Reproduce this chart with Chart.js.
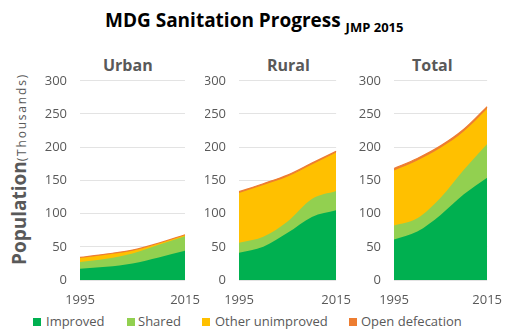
<!DOCTYPE html>
<html>
<head>
<meta charset="utf-8">
<script src="https://cdn.jsdelivr.net/npm/chart.js@4.4.1/dist/chart.umd.min.js"></script>
<style>
  body { margin: 0; width: 506px; height: 329px; background: #fff; position: relative; overflow: hidden;
         font-family: "Open Sans", sans-serif; color: #595959; }
  .abs { position: absolute; white-space: nowrap; line-height: 1; }
  .panel { position: absolute; }
  .sq { position: absolute; width: 8px; height: 8px; }
</style>
</head>
<body>
<div class="abs" style="left:105px; top:11px; font-size:19px; font-weight:bold; color:#000;">MDG Sanitation Progress <span style="font-size:13px; position:relative; top:5px;">JMP 2015</span></div>

<div class="abs" style="left:-81px; top:157px; width:200px; height:24px; line-height:24px; text-align:center; transform:rotate(-90deg); transform-origin:center;">
  <span style="font-size:19px; font-weight:bold;">Population</span><span style="font-size:12px; letter-spacing:1.8px;">(Thousands)</span>
</div>

<div class="abs" style="left:103px; top:57px; font-size:16px; font-weight:bold;">Urban</div>
<div class="abs" style="left:267px; top:57px; font-size:16px; font-weight:bold;">Rural</div>
<div class="abs" style="left:412px; top:57px; font-size:16px; font-weight:bold;">Total</div>

<canvas id="urban" class="panel" width="175" height="246" style="left:30px; top:60px;"></canvas>
<canvas id="rural" class="panel" width="150" height="246" style="left:205px; top:60px;"></canvas>
<canvas id="total" class="panel" width="148" height="246" style="left:358px; top:60px;"></canvas>

<div class="sq" style="left:33px; top:318px; background:#00B050;"></div>
<div class="abs" style="left:46px; top:315px; font-size:13px;">Improved</div>
<div class="sq" style="left:127px; top:318px; background:#92D050;"></div>
<div class="abs" style="left:138px; top:315px; font-size:13px;">Shared</div>
<div class="sq" style="left:202px; top:318px; background:#FFC000;"></div>
<div class="abs" style="left:215px; top:315px; font-size:13px;">Other unimproved</div>
<div class="sq" style="left:349px; top:318px; background:#ED7D31;"></div>
<div class="abs" style="left:361px; top:315px; font-size:13px;">Open defecation</div>

<script>
// years on the x axis (only first and last are labelled)
const years = ["1995", "2000", "2005", "2010", "2015"];
const yMax = 300;
const yStep = 50;

// Urban (thousands), each layer's own share of the stack
const urbanImproved = [17, 20, 25, 34, 44];
const urbanShared = [10, 12, 15, 19, 22];
const urbanOther = [6, 6, 4, 2, 1.5];
const urbanOpen = [1, 1, 1, 0.5, 0.5];

// Rural
const ruralImproved = [41, 50, 71, 95, 105];
const ruralShared = [15, 15, 17, 27, 29];
const ruralOther = [75, 78, 68, 52, 58];
const ruralOpen = [2, 2, 2, 2, 2];

// Total
const totalImproved = [61, 73, 98, 129, 154];
const totalShared = [21, 20, 26, 37, 51];
const totalOther = [83, 87, 75, 58, 53];
const totalOpen = [3, 3, 3, 3, 3];

const colors = {
    improved: "#00B050",
    shared: "#92D050",
    other: "#FFC000",
    open: "#ED7D31",
};

function layer(label, data, color, line) {
    return {
        label: label,
        data: data,
        backgroundColor: color,
        borderColor: color,
        borderWidth: line ? 1.2 : 0,
        fill: "origin",
        cubicInterpolationMode: "monotone",
        pointRadius: 0,
    };
}

function makePanel(id, improved, shared, other, open, axisWidth, padRight) {
    const ctx = document.getElementById(id).getContext("2d");
    return new Chart(ctx, {
        type: "line",
        data: {
            labels: years,
            datasets: [
                layer("Improved", improved, colors.improved, false),
                layer("Shared", shared, colors.shared, false),
                layer("Other unimproved", other, colors.other, false),
                layer("Open defecation", open, colors.open, true),
            ],
        },
        options: {
            responsive: false,
            animation: false,
            layout: { padding: { top: 15, right: padRight, bottom: 0, left: 0 } },
            plugins: { legend: { display: false }, tooltip: { enabled: false } },
            scales: {
                x: {
                    afterFit: (s) => { s.height = 26; },
                    grid: { display: false },
                    border: { display: false },
                    ticks: {
                        color: "#595959",
                        font: { family: "Open Sans", size: 13 },
                        padding: 4,
                        autoSkip: false,
                        maxRotation: 0,
                        callback: function (v, i) {
                            return i === 0 || i === years.length - 1 ? years[i] : "";
                        },
                    },
                },
                y: {
                    stacked: true,
                    min: 0,
                    max: yMax,
                    afterFit: (s) => { s.width = axisWidth; },
                    grid: { color: "#e3e3e3", drawTicks: false },
                    border: { display: false },
                    ticks: {
                        stepSize: yStep,
                        color: "#595959",
                        font: { family: "Open Sans", size: 13 },
                        padding: 13,
                    },
                },
            },
        },
    });
}

makePanel("urban", urbanImproved, urbanShared, urbanOther, urbanOpen, 50, 20);
makePanel("rural", ruralImproved, ruralShared, ruralOther, ruralOpen, 34, 18);
makePanel("total", totalImproved, totalShared, totalOther, totalOpen, 36, 14);
</script>
</body>
</html>
